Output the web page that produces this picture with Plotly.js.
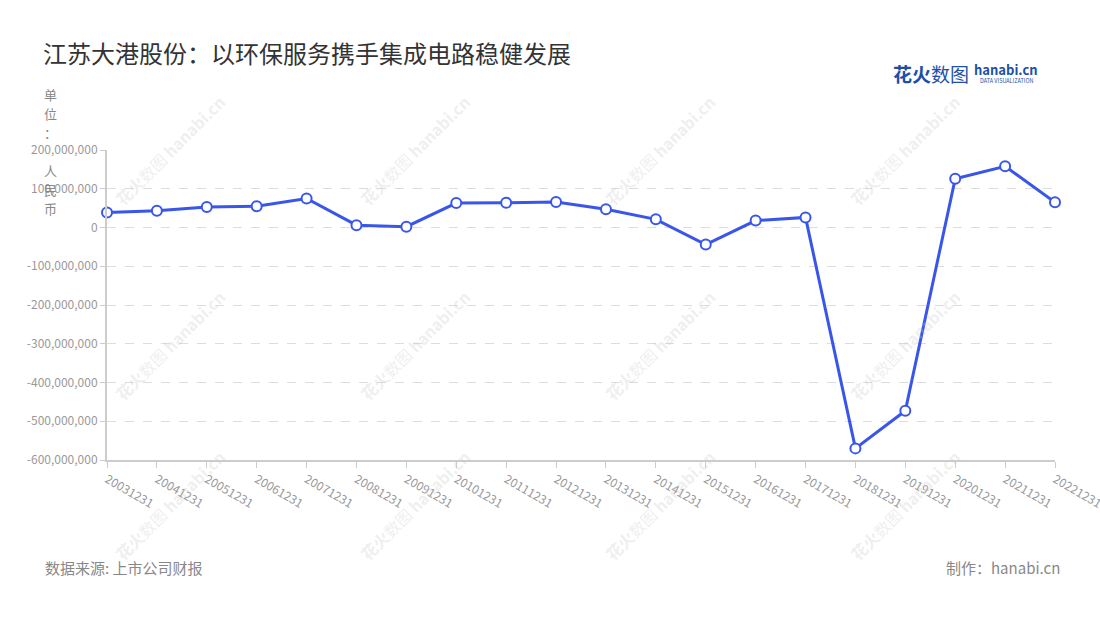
<!DOCTYPE html>
<html>
<head>
<meta charset="utf-8">
<script src="https://cdn.plot.ly/plotly-3.0.1.min.js"></script>
<style>
html,body{margin:0;padding:0;background:#fff;}
#chart{width:1100px;height:620px;}
</style>
</head>
<body>
<div id="chart"></div>
<script>
const categories = ["20031231","20041231","20051231","20061231","20071231","20081231","20091231","20101231","20111231","20121231","20131231","20141231","20151231","20161231","20171231","20181231","20191231","20201231","20211231","20221231"];
const values = [39000000,43000000,53000000,55000000,75000000,6000000,2000000,63000000,64000000,66000000,47000000,21000000,-44000000,18000000,26000000,-570000000,-473000000,126000000,158000000,65000000];
const yTickVals = [200000000,100000000,0,-100000000,-200000000,-300000000,-400000000,-500000000,-600000000];
const yTickText = ["200,000,000","100,000,000","0","-100,000,000","-200,000,000","-300,000,000","-400,000,000","-500,000,000","-600,000,000"];
const unitChars = ["单","位","：","人","民","币"];

const font = '"Noto Sans CJK SC","Noto Sans",sans-serif';

const trace = {
  x: categories,
  y: values,
  type: 'scatter',
  mode: 'lines+markers',
  line: {color: '#3a56ea', width: 3},
  marker: {size: 10, color: '#ffffff', line: {color: '#3a56ea', width: 2}},
  cliponaxis: false,
  hoverinfo: 'x+y'
};

// convert pixel positions to paper coordinates
const W = 1100, H = 620, L = 107, R = 45, T = 150, B = 160;
const pw = W - L - R, ph = H - T - B;
function px(x){ return (x - L) / pw; }
function py(y){ return (H - B - y) / ph; }
function ann(text, x, y, xa, ya, f, extra){
  return Object.assign({text: text, xref: 'paper', yref: 'paper', x: px(x), y: py(y), xanchor: xa, yanchor: ya, showarrow: false, font: f}, extra || {});
}

const annotations = [];
const unitY = [95, 114, 133, 170, 189, 208];
unitChars.forEach((c, i) => {
  annotations.push(ann(c, 50, unitY[i], 'center', 'middle', {size: 13, color: '#888', family: font}));
});
annotations.push(ann('数据来源: 上市公司财报', 43, 567, 'left', 'middle', {size: 15, color: '#888', family: font}));
annotations.push(ann('制作：hanabi.cn', 1062, 567, 'right', 'middle', {size: 15, color: '#888', family: font}));
annotations.push(ann('<b>花火</b>数图', 931, 73, 'center', 'middle', {size: 19, color: '#1e4fa8', family: font}));
annotations.push(ann('<b>hanabi.cn</b>', 1006, 69, 'center', 'middle', {size: 13, color: '#1e4fa8', family: font}));
annotations.push(ann('DATA VISUALIZATION', 1006, 81, 'center', 'middle', {size: 5.5, color: '#1e4fa8', family: font}));

// faint watermarks
const wmX = [170, 415, 660, 905];
const wmY = [150, 345, 505];
wmY.forEach(y => wmX.forEach(x => {
  annotations.push(ann('<b>花火</b>数图 <b>hanabi.cn</b>', x, y, 'center', 'middle', {size: 16, color: 'rgba(200,200,200,0.3)', family: font}, {textangle: -45}));
}));

const layout = {
  width: 1100, height: 620,
  margin: {l: L, r: R, t: T, b: B},
  paper_bgcolor: '#fff', plot_bgcolor: '#fff',
  showlegend: false,
  title: {text: '江苏大港股份：以环保服务携手集成电路稳健发展', x: 43/1100, xanchor: 'left', y: 1 - 55/620, yanchor: 'middle', font: {size: 24, color: '#333', family: font}},
  xaxis: {
    type: 'category', range: [0, categories.length - 1],
    showgrid: false, zeroline: false,
    showline: true, linecolor: '#ccc', linewidth: 2,
    ticks: 'outside', tickcolor: '#ccc', ticklen: 6, tickwidth: 1,
    tickangle: 30, tickfont: {size: 12, color: '#999', family: font}
  },
  yaxis: {
    range: [-600000000, 200000000],
    tickvals: yTickVals, ticktext: yTickText,
    showgrid: true, gridcolor: '#ddd', griddash: 'dash', gridwidth: 1,
    zeroline: false,
    showline: true, linecolor: '#ccc', linewidth: 2,
    ticks: 'outside', tickcolor: '#ccc', ticklen: 5,
    tickfont: {size: 12, color: '#999', family: font}
  },
  annotations: annotations
};

Plotly.newPlot('chart', [trace], layout, {displayModeBar: false, staticPlot: true});
</script>
</body>
</html>
